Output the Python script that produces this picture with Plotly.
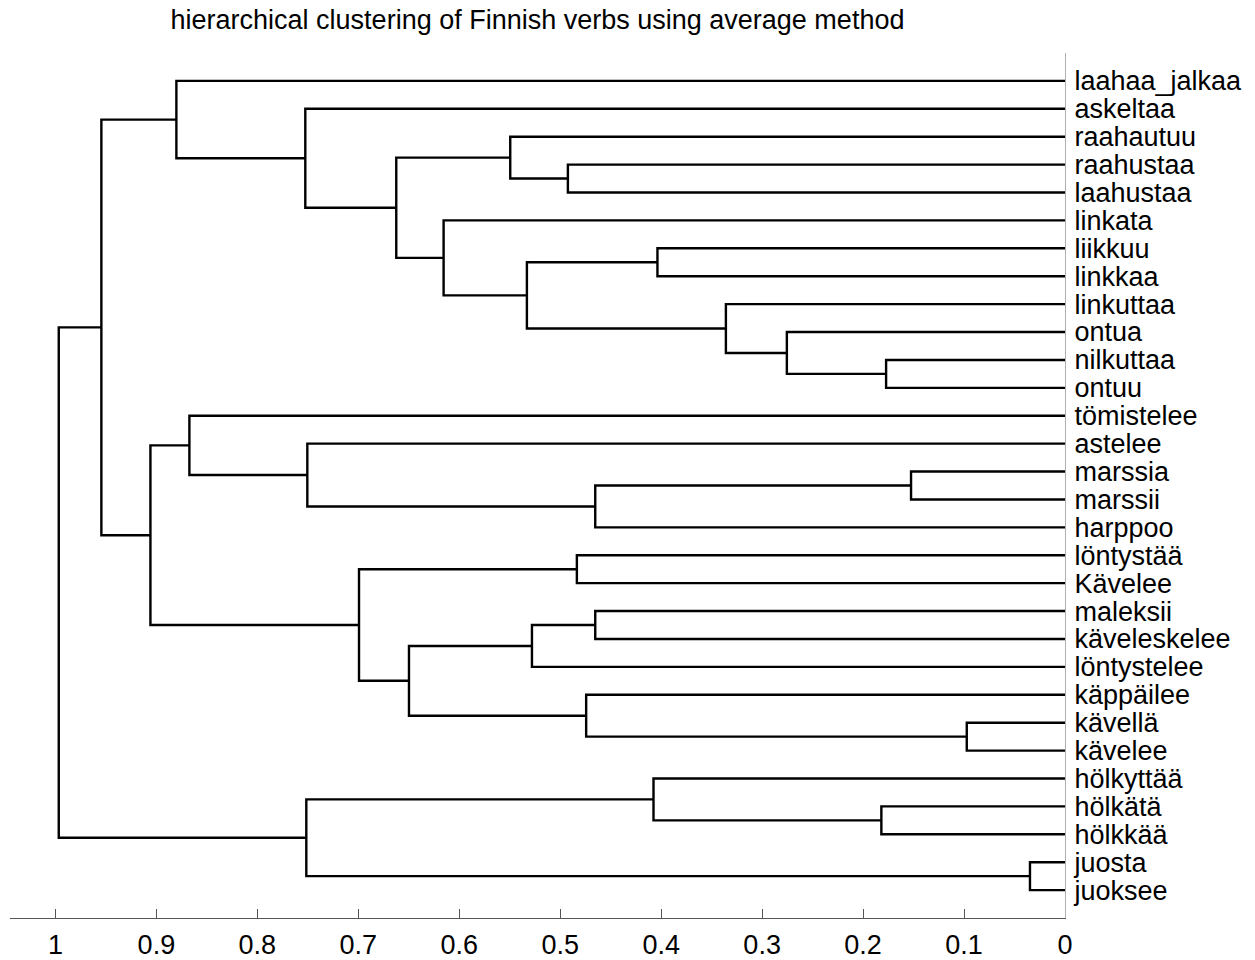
import plotly.graph_objects as go

labels = ["laahaa_jalkaa", "askeltaa", "raahautuu", "raahustaa", "laahustaa",
          "linkata", "liikkuu", "linkkaa", "linkuttaa", "ontua", "nilkuttaa",
          "ontuu", "tömistelee", "astelee", "marssia", "marssii", "harppoo",
          "löntystää", "Kävelee", "maleksii", "käveleskelee", "löntystelee",
          "käppäilee", "kävellä", "kävelee", "hölkyttää", "hölkätä", "hölkkää",
          "juosta", "juoksee"]

# linkage rows: child a, child b, merge height (node ids start at len(labels))
merge_a = [28, 23, 14, 10, 26, 9, 8, 6, 25, 16, 19, 22, 17, 3, 21, 37, 2, 5,
           44, 46, 42, 13, 38, 1, 12, 0, 54, 55, 57]
merge_b = [29, 24, 15, 11, 27, 33, 35, 7, 34, 32, 20, 31, 18, 4, 40, 36, 43, 45,
           41, 47, 48, 39, 30, 49, 51, 53, 50, 56, 52]
merge_h = [0.0347, 0.0973, 0.1525, 0.1772, 0.1819, 0.2755, 0.3359, 0.4037,
           0.4076, 0.4653, 0.4653, 0.4743, 0.4835, 0.4924, 0.5280, 0.5330,
           0.5495, 0.6155, 0.6498, 0.6624, 0.6993, 0.7505, 0.7515, 0.7525,
           0.8673, 0.8802, 0.9059, 0.9545, 0.9967]

xticks = [1, 0.9, 0.8, 0.7, 0.6, 0.5, 0.4, 0.3, 0.2, 0.1, 0]
xticktext = ["1", "0.9", "0.8", "0.7", "0.6", "0.5", "0.4", "0.3", "0.2", "0.1", "0"]

n = len(labels)
pos_y = {i: n - i for i in range(n)}
pos_h = {i: 0.0 for i in range(n)}
xs, ys = [], []
for k, (a, b, h) in enumerate(zip(merge_a, merge_b, merge_h)):
    node = n + k
    ya, yb = pos_y[a], pos_y[b]
    xs += [pos_h[a], h, h, pos_h[b], None]
    ys += [ya, ya, yb, yb, None]
    pos_y[node] = (ya + yb) / 2
    pos_h[node] = h

fig = go.Figure()
fig.add_trace(go.Scatter(x=xs, y=ys, mode="lines",
                         line=dict(color="black", width=2.4),
                         hoverinfo="skip", showlegend=False))

FONT = "Liberation Sans, Arial, Helvetica, sans-serif"
fig.update_layout(
    width=1255, height=960,
    margin=dict(l=10, r=190, t=53, b=42),
    paper_bgcolor="white", plot_bgcolor="white",
    font=dict(family=FONT, size=27, color="black"),
    title=dict(text="hierarchical clustering of Finnish verbs using average method",
               x=0.5, xref="paper", xanchor="center",
               y=1 - 20 / 960, yref="container", yanchor="middle",
               font=dict(size=27, color="black")),
    xaxis=dict(range=[1.045, 0], tickvals=xticks, ticktext=xticktext,
               ticks="inside", ticklen=9, tickcolor="#555", tickwidth=1,
               showline=True, linecolor="#555", linewidth=1,
               showgrid=False, zeroline=False, ticklabelstandoff=3,
               automargin=False,
               tickfont=dict(size=27, color="black")),
    yaxis=dict(range=[0, n + 1], side="right",
               tickvals=[n - i for i in range(n)], ticktext=labels,
               ticks="", showline=True, linecolor="#b0b0b0", linewidth=1,
               showgrid=False, zeroline=False, ticklabelstandoff=3,
               automargin=False,
               tickfont=dict(size=27, color="black")),
)

fig.write_html("out.html")
